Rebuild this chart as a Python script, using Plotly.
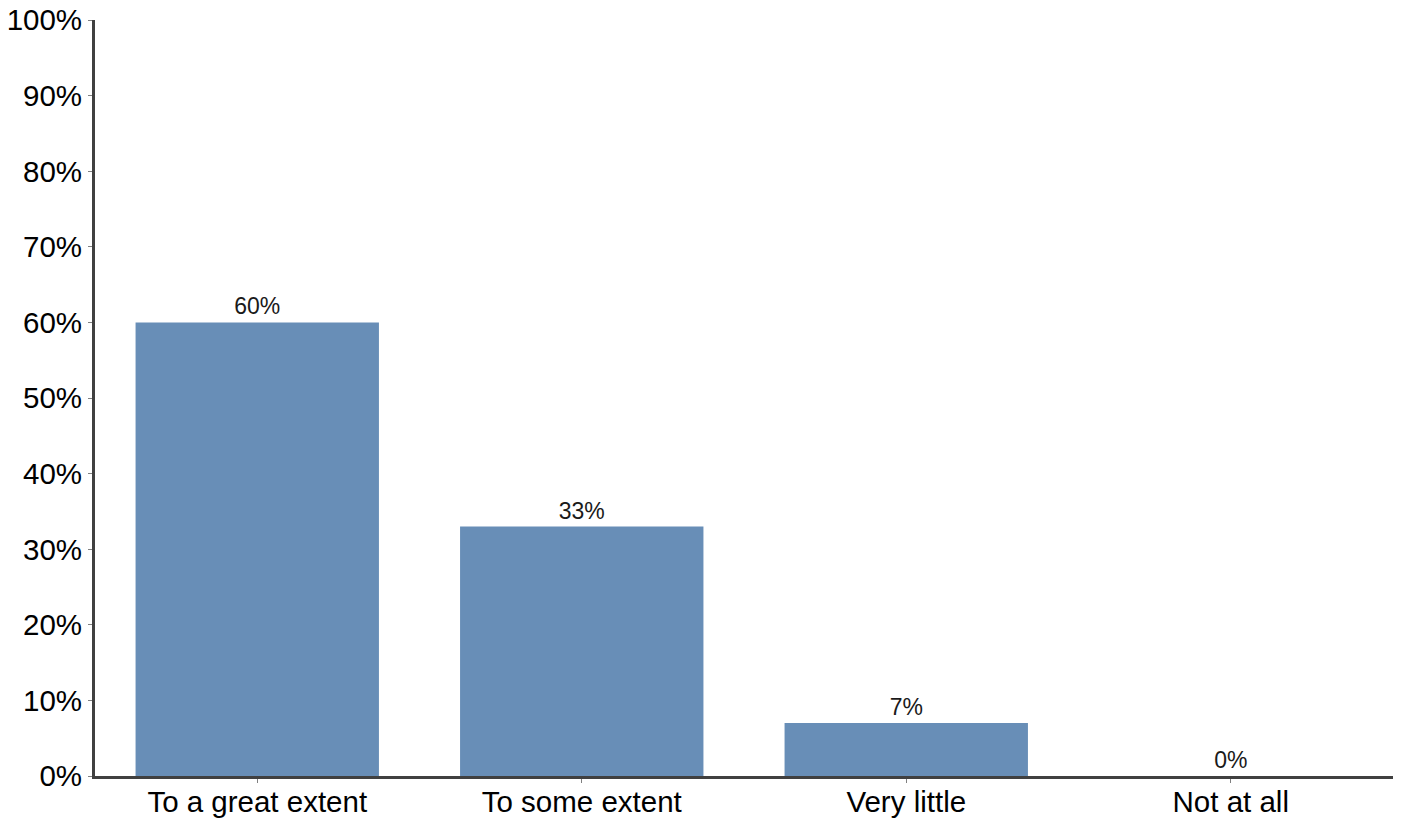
import plotly.graph_objects as go

categories = ["To a great extent", "To some extent", "Very little", "Not at all"]
values = [60, 33, 7, 0]
labels = ["60%", "33%", "7%", "0%"]
y_ticks = [0, 10, 20, 30, 40, 50, 60, 70, 80, 90, 100]
y_tick_labels = [f"{v}%" for v in y_ticks]

fig = go.Figure(
    go.Bar(
        x=categories,
        y=values,
        text=labels,
        textposition="outside",
        textfont=dict(family="Liberation Sans, Arial", size=23, color="#1a1a1a"),
        marker=dict(color="#688EB7", line=dict(width=0)),
        width=0.75,
        cliponaxis=False,
    )
)

fig.update_layout(
    width=1404,
    height=821,
    margin=dict(l=95, r=11, t=20, b=45),
    paper_bgcolor="white",
    plot_bgcolor="white",
    showlegend=False,
    font=dict(family="Liberation Sans, Arial", color="black"),
    bargap=0.25,
)

fig.update_xaxes(
    range=[-0.5, 3.5],
    showgrid=False,
    showline=True,
    linecolor="#404040",
    linewidth=3,
    ticks="outside",
    ticklen=4,
    tickcolor="#808080",
    tickwidth=1,
    tickfont=dict(size=29.5, color="black"),
    ticklabelstandoff=-6,
    zeroline=False,
    automargin=False,
)

fig.update_yaxes(
    range=[0, 100],
    tickvals=y_ticks,
    ticktext=y_tick_labels,
    showgrid=False,
    showline=True,
    linecolor="#404040",
    linewidth=3,
    ticks="outside",
    ticklen=4,
    tickcolor="#808080",
    tickwidth=1,
    tickfont=dict(size=29.5, color="black"),
    ticklabeloverflow="allow",
    zeroline=False,
    automargin=False,
)

fig.write_html(
    "out.html",
    config={"displayModeBar": False},
    post_script="document.body.style.margin='0';document.body.style.overflow='hidden';",
)
